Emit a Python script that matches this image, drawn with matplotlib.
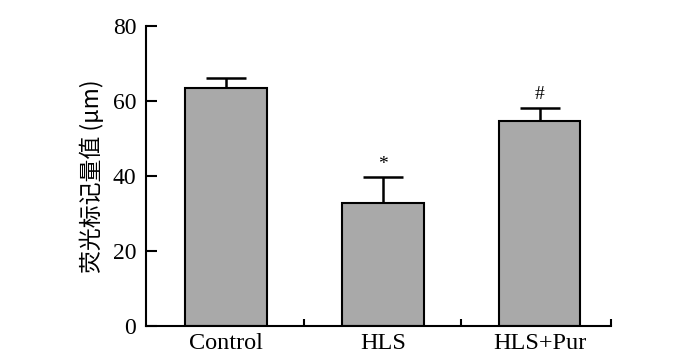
import numpy as np
import matplotlib
matplotlib.use("Agg")
from matplotlib import pyplot as plt

# data
groups = ["Control", "HLS", "HLS+Pur"]
means = [63.4, 32.9, 54.7]
errs = [2.8, 6.8, 3.5]
marks = ["", "*", "#"]

plt.rcParams['font.family'] = ['Liberation Serif', 'Noto Sans CJK SC', 'DejaVu Sans']

fig = plt.figure(figsize=(7, 3.58), dpi=100)
ax = fig.add_axes([146 / 700, 1 - 326 / 358, (611 - 146) / 700, 300 / 358])

x = np.arange(len(groups))
ax.bar(x, means, width=0.52, color='#a9a9a9', edgecolor='black', linewidth=1.5, zorder=2)
ax.errorbar(x, means, yerr=[np.zeros(len(errs)), errs], fmt='none', ecolor='black',
            elinewidth=1.8, capsize=14.5, capthick=1.8, zorder=1)

for xi, m, e, s in zip(x, means, errs, marks):
    if s:
        ax.text(xi, m + e + 1.2, s, ha='center', va='bottom', fontsize=14)

ax.set_xlim(-0.51, 2.455)
ax.set_ylim(0, 80)
ax.set_yticks([0, 20, 40, 60, 80])
ax.set_xticks(x)
ax.set_xticklabels(groups, fontsize=17.5)
ax.set_xticks([0.5, 1.5, 2.455], minor=True)
ax.tick_params(axis='x', which='major', length=0, pad=5)
ax.tick_params(axis='x', which='minor', direction='in', length=5, width=1.5)
ax.tick_params(axis='y', direction='in', length=8, width=1.5, labelsize=17, pad=7)

for side in ['top', 'right']:
    ax.spines[side].set_visible(False)
for side in ['left', 'bottom']:
    ax.spines[side].set_linewidth(1.5)

ax.set_ylabel('荧光标记量值 (μm)', fontsize=16.5,
              family=['Noto Sans CJK SC', 'DejaVu Sans'], labelpad=6)

fig.savefig('out.png', dpi=100)
